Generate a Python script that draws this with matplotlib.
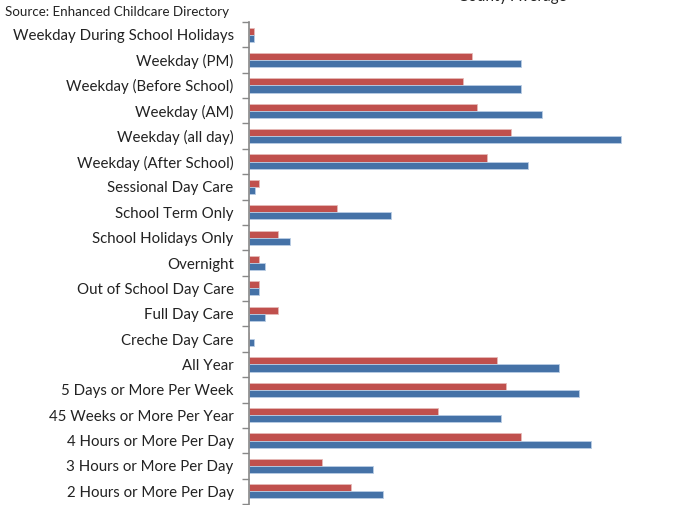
import matplotlib.pyplot as plt
import numpy as np

categories = ["Weekday During School Holidays", "Weekday (PM)", "Weekday (Before School)",
              "Weekday (AM)", "Weekday (all day)", "Weekday (After School)",
              "Sessional Day Care", "School Term Only", "School Holidays Only",
              "Overnight", "Out of School Day Care", "Full Day Care", "Creche Day Care",
              "All Year", "5 Days or More Per Week", "45 Weeks or More Per Year",
              "4 Hours or More Per Day", "3 Hours or More Per Day", "2 Hours or More Per Day"]
# red series (upper bar) and blue series (lower bar)
red_vals = [0.5, 22.3, 21.4, 22.8, 26.2, 23.8, 1.0, 8.8, 2.9, 1.0, 1.0, 2.9, 0.0,
            24.8, 25.7, 18.9, 27.2, 7.3, 10.2]
blue_vals = [0.5, 27.2, 27.2, 29.3, 37.2, 27.9, 0.6, 14.2, 4.1, 1.6, 1.0, 1.6, 0.5,
             31.0, 33.0, 25.2, 34.2, 12.4, 13.4]

plt.rcParams['font.family'] = ['Lato', 'DejaVu Sans']

fig = plt.figure(figsize=(6.78, 5.05), dpi=100)
ax = fig.add_axes([249/678, 1/505, 1 - 249/678, 482/505])

y = np.arange(len(categories))
h = 0.28
ax.barh(y - h/2, red_vals, height=h, color='#c0504d', edgecolor='#e6b9b8', linewidth=0.6)
ax.barh(y + h/2, blue_vals, height=h, color='#4572a7', edgecolor='#b9cde5', linewidth=0.6)

ax.set_ylim(len(categories) - 0.5, -0.5)
ax.set_xlim(0, (678 - 249) / 10)

ax.set_yticks(y)
ax.set_yticklabels(categories, fontsize=10.8, color='#222222')
ax.set_yticks(np.arange(-0.5, len(categories)), minor=True)
ax.tick_params(axis='y', which='major', length=0, pad=11)
ax.tick_params(axis='y', which='minor', length=5, color='#888888', width=1)
ax.set_xticks([])

for s in ['top', 'right', 'bottom']:
    ax.spines[s].set_visible(False)
ax.spines['left'].set_color('#888888')
ax.spines['left'].set_linewidth(1.2)

fig.text(5/678, 1 - 12/505, "Source: Enhanced Childcare Directory", fontsize=9.6,
         va='center', ha='left', color='#222222')
fig.text(512/678, 1 - 1.5/505, "County Average", fontsize=11, va='baseline',
         ha='center', color='#222222')

fig.savefig("out.png", dpi=100)
